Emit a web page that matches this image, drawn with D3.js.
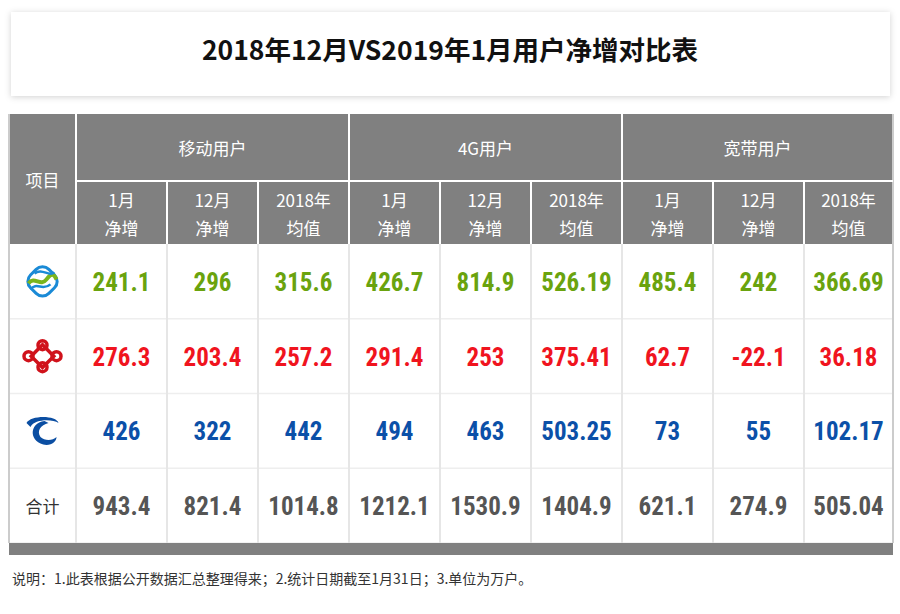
<!DOCTYPE html>
<html><head><meta charset="utf-8">
<script src="https://cdn.jsdelivr.net/npm/d3@7"></script>
<style>body{margin:0;background:#fff}</style></head>
<body><svg id="c" width="900" height="614"></svg>
<script>
const title = "2018年12月VS2019年1月用户净增对比表";
const groups = ["移动用户","4G用户","宽带用户"];
const subHeads = [["1月","净增"],["12月","净增"],["2018年","均值"]];
const rowNames = ["中国移动","中国联通","中国电信","合计"];
const rowColors = ["#6aa30e","#f0141e","#0b50a8","#555555"];
const cmcc = ["241.1","296","315.6","426.7","814.9","526.19","485.4","242","366.69"];
const unicom = ["276.3","203.4","257.2","291.4","253","375.41","62.7","-22.1","36.18"];
const telecom = ["426","322","442","494","463","503.25","73","55","102.17"];
const total = ["943.4","821.4","1014.8","1212.1","1530.9","1404.9","621.1","274.9","505.04"];
const note = "说明：1.此表根据公开数据汇总整理得来；2.统计日期截至1月31日；3.单位为万户。";
const rows=[cmcc,unicom,telecom,total];

const svg=d3.select("#c");
const F="'Noto Sans CJK SC','Noto Sans',sans-serif";
svg.append("rect").attr("x",11).attr("y",12).attr("width",879).attr("height",84).attr("fill","#fff")
  .style("filter","drop-shadow(0 1px 3px rgba(0,0,0,0.18))");
svg.append("text").attr("x",450).attr("y",60).attr("text-anchor","middle").attr("font-family",F)
  .attr("font-weight","bold").attr("font-size",26.5).attr("fill","#111").text(title);

const colEdges=[9,76,167,258,349,440,531,622,713,804,893];
const y0=114,y1=181,y2=244;
const rowY=d3.scaleBand().domain(d3.range(4)).range([244,543]);
const g=svg.append("g");
g.append("rect").attr("x",9).attr("y",y0).attr("width",884).attr("height",y2-y0).attr("fill","#808080");
rows.forEach((r,i)=>{
  g.append("line").attr("x1",9).attr("x2",893).attr("y1",rowY(i)+rowY.bandwidth()).attr("y2",rowY(i)+rowY.bandwidth())
   .attr("stroke","#eeeeee").attr("stroke-width",1.5);
});
colEdges.forEach((cx,i)=>{
  const major=[0,1,4,7,10].includes(i);
  g.append("line").attr("x1",cx).attr("x2",cx).attr("y1",major?y0:y1).attr("y2",543)
   .attr("stroke",i==0||i==10?"#ccc":"#e6e6e6").attr("stroke-width",2);
  if(!major||i==1||i==4||i==7) g.append("line").attr("x1",cx).attr("x2",cx).attr("y1",major?y0:y1).attr("y2",y2).attr("stroke","#fff").attr("stroke-width",2);
});
g.append("line").attr("x1",76).attr("x2",893).attr("y1",y1).attr("y2",y1).attr("stroke","#fff").attr("stroke-width",2);
g.append("rect").attr("x",9).attr("y",543).attr("width",884).attr("height",12).attr("fill","#808080");
const ht=(t,cx,cy,s)=>g.append("text").attr("x",cx).attr("y",cy).attr("text-anchor","middle").attr("dominant-baseline","central")
  .attr("font-family",F).attr("font-size",s||17).attr("fill","#fff").text(t);
ht("项目",42.5,179,17);
groups.forEach((gr,i)=>{
  ht(gr,(colEdges[1+3*i]+colEdges[4+3*i])/2,147,17);
  subHeads.forEach((sh,j)=>{
    const c=(colEdges[1+3*i+j]+colEdges[2+3*i+j])/2;
    ht(sh[0],c,199,17);ht(sh[1],c,227,17);
  });
});
rows.forEach((r,i)=>{
  const cy=rowY(i)+rowY.bandwidth()/2;
  r.forEach((v,j)=>{
    g.append("text").attr("x",(colEdges[1+j]+colEdges[2+j])/2).attr("y",cy+1).attr("text-anchor","middle")
     .attr("dominant-baseline","central").attr("font-family","Roboto,sans-serif").attr("font-weight","bold")
     .attr("font-size",25).style("font-stretch","condensed").attr("fill",rowColors[i]).text(v);
  });
});
g.append("text").attr("x",42.5).attr("y",rowY(3)+rowY.bandwidth()/2).attr("text-anchor","middle").attr("dominant-baseline","central")
  .attr("font-family",F).attr("font-size",17).attr("fill","#333").text("合计");
const lx=42.5;
let cy=rowY(0)+rowY.bandwidth()/2;
const m=g.append("g").attr("transform",`translate(${lx},${cy})`);
m.append("rect").attr("x",-13).attr("y",-13).attr("width",26).attr("height",26).attr("rx",9).attr("transform","rotate(45)").attr("fill","none").attr("stroke","#1a8ad6").attr("stroke-width",3);
m.append("path").attr("d","M-14,2 C-8,-6 -2,6 4,-2 S12,-6 14,-2").attr("fill","none").attr("stroke","#7ab51d").attr("stroke-width",4);
m.append("path").attr("d","M-12,8 C-6,0 0,10 8,3").attr("fill","none").attr("stroke","#1a8ad6").attr("stroke-width",2.5);
m.append("path").attr("d","M-8,-8 C0,-14 6,-4 12,-9").attr("fill","none").attr("stroke","#1a8ad6").attr("stroke-width",2.5);
cy=rowY(1)+rowY.bandwidth()/2;
const u=g.append("g").attr("transform",`translate(${lx},${cy})`).attr("fill","none").attr("stroke","#d0121b").attr("stroke-width",3.5);
u.append("rect").attr("x",-8).attr("y",-8).attr("width",16).attr("height",16).attr("transform","rotate(45)");
[[-14,0],[14,0],[0,-11],[0,11]].forEach(p=>u.append("circle").attr("cx",p[0]).attr("cy",p[1]).attr("r",4.5));
cy=rowY(2)+rowY.bandwidth()/2;
const t=g.append("g").attr("transform",`translate(${lx},${cy})`);
t.append("path").attr("d","M-16,-8 C-12,-16 14,-16 16,-8 C10,-12 -8,-12 -12,-4 Z").attr("fill","#0b4ea2");
t.append("path").attr("d","M2,-10 C-14,-8 -14,12 4,14 C10,14 14,10 14,6 C10,10 2,10 -2,6 C-6,0 -2,-6 6,-8 Z").attr("fill","#0b4ea2");
svg.append("text").attr("x",12).attr("y",584).attr("font-family",F).attr("font-size",14).attr("fill","#333").text(note);
</script></body></html>
